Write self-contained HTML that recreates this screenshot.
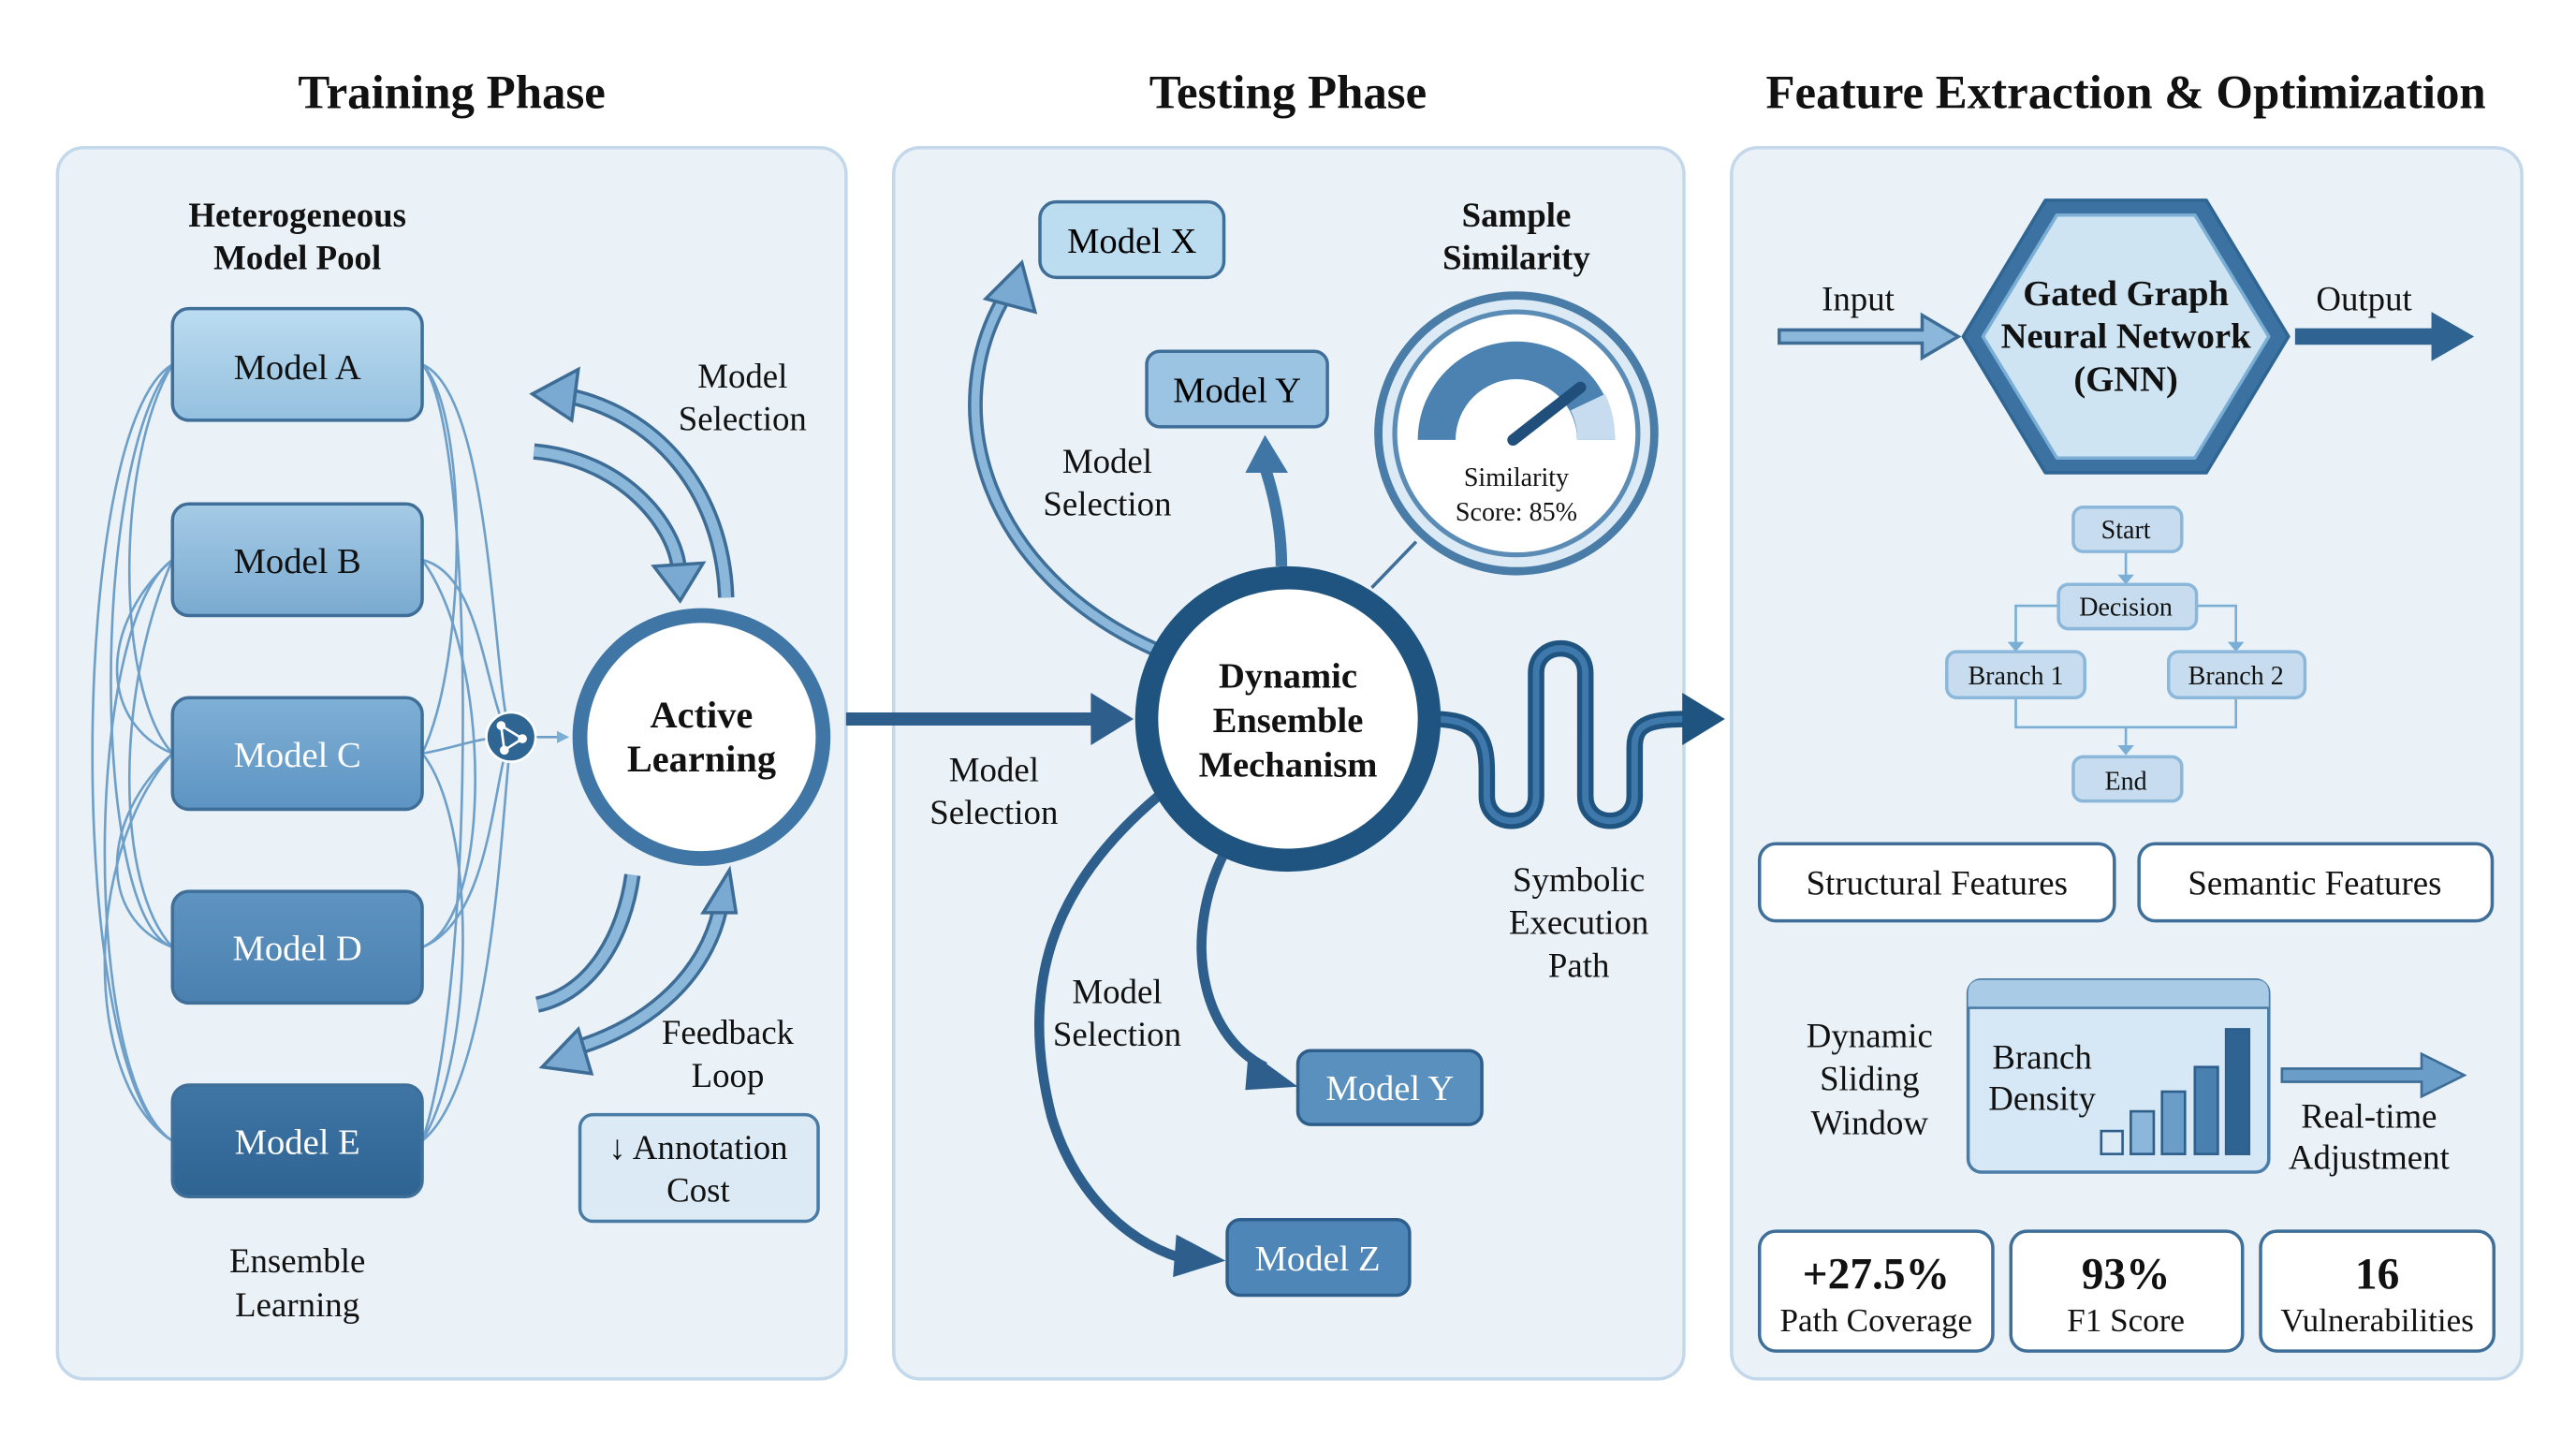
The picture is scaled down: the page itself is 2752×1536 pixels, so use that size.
<!DOCTYPE html>
<html><head><meta charset="utf-8"><style>html,body{margin:0;padding:0;background:#fff}svg{display:block}</style></head><body>
<svg width="2752" height="1536" viewBox="0 0 1568 876" preserveAspectRatio="none" xmlns="http://www.w3.org/2000/svg" font-family="'Liberation Serif', serif">
<defs>
<linearGradient id="gA" x1="0" y1="0" x2="0" y2="1"><stop offset="0" stop-color="#bcdcf0"/><stop offset="1" stop-color="#94c0df"/></linearGradient>
<linearGradient id="gB" x1="0" y1="0" x2="0" y2="1"><stop offset="0" stop-color="#a5cbe6"/><stop offset="1" stop-color="#7aaad0"/></linearGradient>
<linearGradient id="gC" x1="0" y1="0" x2="0" y2="1"><stop offset="0" stop-color="#7fb0d6"/><stop offset="1" stop-color="#5d94c2"/></linearGradient>
<linearGradient id="gD" x1="0" y1="0" x2="0" y2="1"><stop offset="0" stop-color="#5f94c1"/><stop offset="1" stop-color="#4a80b0"/></linearGradient>
<linearGradient id="gE" x1="0" y1="0" x2="0" y2="1"><stop offset="0" stop-color="#3f76a6"/><stop offset="1" stop-color="#2e6392"/></linearGradient>
<marker id="ms" viewBox="0 0 10 10" refX="8" refY="5" markerWidth="5" markerHeight="5" orient="auto"><path d="M0,0L10,5L0,10z" fill="#7aaed4"/></marker>
</defs>
<rect width="1568" height="876" fill="#fff"/>
<g font-weight="bold" font-size="29" text-anchor="middle" fill="#111">
<text x="275" y="66">Training Phase</text><text x="784" y="66">Testing Phase</text><text x="1294" y="66">Feature Extraction &amp; Optimization</text></g>
<g fill="#eaf2f8" stroke="#c3d8ea" stroke-width="2">
<rect x="35" y="90" width="480" height="750" rx="16"/><rect x="544" y="90" width="481" height="750" rx="16"/><rect x="1054" y="90" width="481" height="750" rx="16"/></g>

<!-- LEFT -->
<g font-weight="bold" font-size="21" text-anchor="middle" fill="#111"><text x="181" y="138">Heterogeneous</text><text x="181" y="164">Model Pool</text></g>
<g fill="none" stroke="#6e9fc8" stroke-width="1.5">
<path d="M105,222 C40,260 40,660 105,695"/><path d="M105,222 C55,280 55,560 105,577"/><path d="M105,341 C50,380 50,660 105,695"/><path d="M105,341 C60,380 60,440 105,459"/><path d="M105,459 C60,500 60,560 105,577"/><path d="M105,222 C70,280 70,420 105,459"/><path d="M105,459 C50,520 50,660 105,695"/><path d="M105,341 C70,420 70,540 105,577"/>
<path d="M257,222 C300,240 300,420 311,449"/><path d="M257,222 C290,260 290,600 257,695"/><path d="M257,341 C295,350 295,430 311,449"/><path d="M257,341 C300,400 300,560 257,577"/><path d="M257,459 C280,455 290,449 311,449"/><path d="M257,577 C300,560 300,470 311,449"/><path d="M257,695 C300,660 305,500 311,449"/><path d="M257,459 C290,500 290,640 257,695"/><path d="M257,222 C285,250 285,400 257,459"/>
<path d="M326,449 L345,449" marker-end="url(#ms)"/></g>
<g stroke="#3f6f98" stroke-width="2">
<rect x="105" y="188" width="152" height="68" rx="10" fill="url(#gA)"/><rect x="105" y="307" width="152" height="68" rx="10" fill="url(#gB)"/><rect x="105" y="425" width="152" height="68" rx="10" fill="url(#gC)"/><rect x="105" y="543" width="152" height="68" rx="10" fill="url(#gD)"/><rect x="105" y="661" width="152" height="68" rx="10" fill="url(#gE)"/></g>
<g font-size="22" text-anchor="middle"><text x="181" y="231" fill="#111">Model A</text><text x="181" y="349" fill="#111">Model B</text><text x="181" y="467" fill="#fff">Model C</text><text x="181" y="585" fill="#fff">Model D</text><text x="181" y="703" fill="#fff">Model E</text></g>
<circle cx="311" cy="449" r="15" fill="#2f6592" stroke="#fff" stroke-width="1.5"/>
<g stroke="#fff" stroke-width="1.5" fill="#fff"><path d="M305,442 L318,450 L307,457 Z" fill="none"/><circle cx="305" cy="442" r="2"/><circle cx="318" cy="450" r="2"/><circle cx="307" cy="457" r="2"/></g>
<circle cx="427" cy="449" r="74" fill="#fff" stroke="#3f76a5" stroke-width="9"/>
<g font-weight="bold" font-size="23" text-anchor="middle" fill="#111"><text x="427" y="443">Active</text><text x="427" y="470">Learning</text></g>
<g fill="none" stroke="#3d6d96" stroke-width="10">
<path d="M442,364 C440,300 400,250 340,240"/><path d="M325,275 C380,280 410,320 413,345"/>
<path d="M385,533 C380,570 360,605 327,612"/><path d="M345,640 C400,625 430,590 438,555"/></g>
<g fill="none" stroke="#8ab7da" stroke-width="6">
<path d="M442,364 C440,300 400,250 340,240"/><path d="M325,275 C380,280 410,320 413,345"/>
<path d="M385,533 C380,570 360,605 327,612"/><path d="M345,640 C400,625 430,590 438,555"/></g>
<g fill="#7aaad2" stroke="#3d6d96" stroke-width="2">
<path d="M324,240 L352,225 L348,256 Z"/><path d="M398,345 L428,343 L414,366 Z"/><path d="M428,556 L448,556 L444,530 Z"/><path d="M330,650 L352,627 L360,654 Z"/></g>
<g font-size="21" text-anchor="middle" fill="#111"><text x="452" y="236">Model</text><text x="452" y="262">Selection</text><text x="443" y="636">Feedback</text><text x="443" y="662">Loop</text><text x="181" y="775">Ensemble</text><text x="181" y="802">Learning</text></g>
<rect x="353" y="679" width="145" height="65" rx="8" fill="#dbeaf5" stroke="#4a7ba5" stroke-width="2"/>
<g font-size="21" text-anchor="middle" fill="#111"><text x="425" y="706">↓ Annotation</text><text x="425" y="732">Cost</text></g>

<!-- MIDDLE -->
<path d="M515,438 L668,438" stroke="#2e5f8c" stroke-width="8"/><path d="M664,422 L690,438 L664,454 Z" fill="#2e5f8c"/>
<g font-size="21" text-anchor="middle" fill="#111"><text x="605" y="476">Model</text><text x="605" y="502">Selection</text></g>
<path d="M704,396 C600,350 570,250 612,180" fill="none" stroke="#3f6f98" stroke-width="9"/><path d="M704,396 C600,350 570,250 612,180" fill="none" stroke="#8ab7da" stroke-width="5"/>
<path d="M600,182 L622,160 L630,190 Z" fill="#7aaad2" stroke="#3d6d96" stroke-width="2"/>
<path d="M780,345 C780,320 775,300 770,285" fill="none" stroke="#3f76a5" stroke-width="7"/><path d="M758,288 L770,265 L784,288 Z" fill="#3f76a5"/>
<rect x="633" y="123" width="112" height="46" rx="10" fill="#bcdcf0" stroke="#3f6f98" stroke-width="2"/><text x="689" y="154" font-size="22" text-anchor="middle">Model X</text>
<rect x="698" y="214" width="110" height="46" rx="8" fill="#9bc4e2" stroke="#3f6f98" stroke-width="2"/><text x="753" y="245" font-size="22" text-anchor="middle">Model Y</text>
<g font-size="21" text-anchor="middle" fill="#111"><text x="674" y="288">Model</text><text x="674" y="314">Selection</text></g>
<line x1="835" y1="358" x2="862" y2="330" stroke="#3f6f98" stroke-width="2"/>
<circle cx="923" cy="264" r="84" fill="#dbeaf5" stroke="#4a7ca8" stroke-width="5"/><circle cx="923" cy="264" r="74" fill="#fff" stroke="#5b8cb6" stroke-width="3"/>
<path d="M863,268 A60,60 0 0 1 983,268 L960,268 A37,37 0 0 0 886,268 Z" fill="#4b82b2"/>
<path d="M960,268 A37,37 0 0 0 956,250 L977,240 A60,60 0 0 1 983,268 Z" fill="#c7ddef"/>
<line x1="921" y1="268" x2="962" y2="236" stroke="#1f4f7a" stroke-width="7" stroke-linecap="round"/>
<g font-size="16" text-anchor="middle" fill="#111"><text x="923" y="296">Similarity</text><text x="923" y="317">Score: 85%</text></g>
<g font-weight="bold" font-size="21" text-anchor="middle" fill="#111"><text x="923" y="138">Sample</text><text x="923" y="164">Similarity</text></g>
<path d="M705,485 C640,540 620,600 640,680 C655,730 690,760 725,768" fill="none" stroke="#2e5f8c" stroke-width="6"/><path d="M716,752 L746,768 L714,778 Z" fill="#2e5f8c"/>
<path d="M745,520 C720,570 730,630 770,650" fill="none" stroke="#2e5f8c" stroke-width="6"/><path d="M760,640 L790,662 L758,664 Z" fill="#2e5f8c"/>
<g font-size="21" text-anchor="middle" fill="#111"><text x="680" y="611">Model</text><text x="680" y="637">Selection</text></g>
<rect x="790" y="640" width="112" height="45" rx="8" fill="#5a90be" stroke="#2e5f8c" stroke-width="2"/><text x="846" y="670" font-size="22" fill="#fff" text-anchor="middle">Model Y</text>
<rect x="747" y="743" width="111" height="46" rx="8" fill="#4d86b7" stroke="#2e5f8c" stroke-width="2"/><text x="802" y="774" font-size="22" fill="#fff" text-anchor="middle">Model Z</text>
<path d="M872,438 C900,438 905,450 905,470 L905,485 C905,505 935,505 935,485 L935,410 C935,390 965,390 965,410 L965,485 C965,505 995,505 995,485 L995,455 C995,440 1005,438 1030,438" fill="none" stroke="#1f5480" stroke-width="10"/>
<path d="M872,438 C900,438 905,450 905,470 L905,485 C905,505 935,505 935,485 L935,410 C935,390 965,390 965,410 L965,485 C965,505 995,505 995,485 L995,455 C995,440 1005,438 1030,438" fill="none" stroke="#3f78aa" stroke-width="4"/>
<path d="M1024,422 L1050,438 L1024,454 Z" fill="#1f5480"/>
<circle cx="784" cy="438" r="86" fill="#fff" stroke="#1f5480" stroke-width="14"/>
<g font-weight="bold" font-size="22" text-anchor="middle" fill="#111"><text x="784" y="419">Dynamic</text><text x="784" y="446">Ensemble</text><text x="784" y="473">Mechanism</text></g>
<g font-size="21" text-anchor="middle" fill="#111"><text x="961" y="543">Symbolic</text><text x="961" y="569">Execution</text><text x="961" y="595">Path</text></g>

<!-- RIGHT -->
<path d="M1083,201 L1170,201 L1170,192 L1192,205 L1170,218 L1170,209 L1083,209 Z" fill="#8ab7da" stroke="#3d6d96" stroke-width="2"/>
<path d="M1397,200 L1480,200 L1480,190 L1506,205 L1480,220 L1480,210 L1397,210 Z" fill="#2e6392"/>
<g font-size="21" text-anchor="middle" fill="#111"><text x="1131" y="189">Input</text><text x="1439" y="189">Output</text></g>
<polygon points="1245,122 1343,122 1393,205 1343,288 1245,288 1195,205" fill="#3b72a2" stroke="#2f6592" stroke-width="2" stroke-linejoin="round"/>
<polygon points="1252,131 1336,131 1381,205 1336,279 1252,279 1207,205" fill="#cfe4f3" stroke="#7aaed4" stroke-width="2" stroke-linejoin="round"/>
<g font-weight="bold" font-size="22" text-anchor="middle" fill="#111"><text x="1294" y="186">Gated Graph</text><text x="1294" y="212">Neural Network</text><text x="1294" y="238">(GNN)</text></g>
<g fill="none" stroke="#7aaed4" stroke-width="1.5">
<path d="M1294,336 L1294,354"/><path d="M1253,369 L1227,369 L1227,396"/><path d="M1336,369 L1361,369 L1361,396"/><path d="M1227,425 L1227,443 L1361,443 L1361,425"/><path d="M1294,443 L1294,458"/></g>
<g fill="#7aaed4"><path d="M1289,350 L1294,356 L1299,350Z"/><path d="M1222,391 L1227,397 L1232,391Z"/><path d="M1356,391 L1361,397 L1366,391Z"/><path d="M1289,454 L1294,460 L1299,454Z"/></g>
<g fill="#c7ddef" stroke="#8ab7da" stroke-width="2">
<rect x="1262" y="309" width="66" height="27" rx="6"/><rect x="1253" y="356" width="84" height="27" rx="6"/><rect x="1185" y="397" width="84" height="28" rx="6"/><rect x="1320" y="397" width="83" height="28" rx="6"/><rect x="1262" y="461" width="66" height="27" rx="6"/></g>
<g font-size="16" text-anchor="middle" fill="#111"><text x="1294" y="328">Start</text><text x="1294" y="375">Decision</text><text x="1227" y="417">Branch 1</text><text x="1361" y="417">Branch 2</text><text x="1294" y="481">End</text></g>
<g fill="#fff" stroke="#3f6f98" stroke-width="2"><rect x="1071" y="514" width="216" height="47" rx="10"/><rect x="1302" y="514" width="215" height="47" rx="10"/></g>
<g font-size="21" text-anchor="middle" fill="#111"><text x="1179" y="545">Structural Features</text><text x="1409" y="545">Semantic Features</text>
<text x="1138" y="638">Dynamic</text><text x="1138" y="664">Sliding</text><text x="1138" y="691">Window</text>
<text x="1442" y="687">Real-time</text><text x="1442" y="712">Adjustment</text></g>
<rect x="1198" y="597" width="183" height="117" rx="8" fill="#d6e8f5" stroke="#4a7ca8" stroke-width="2"/>
<path d="M1198,605 Q1198,597 1206,597 L1373,597 Q1381,597 1381,605 L1381,614 L1198,614 Z" fill="#a9cbe6"/><line x1="1198" y1="614" x2="1381" y2="614" stroke="#4a7ca8" stroke-width="1.5"/>
<g font-size="21" text-anchor="middle" fill="#111"><text x="1243" y="651">Branch</text><text x="1243" y="676">Density</text></g>
<g stroke="#2e5f8c" stroke-width="1.5"><rect x="1279" y="689" width="13" height="14" fill="#dbeaf5"/><rect x="1297" y="677" width="14" height="26" fill="#8ab7da"/><rect x="1316" y="665" width="14" height="38" fill="#6a9dc8"/><rect x="1336" y="650" width="14" height="53" fill="#4a80b0"/><rect x="1355" y="627" width="14" height="76" fill="#2e6392"/></g>
<path d="M1389,651 L1474,651 L1474,642 L1500,655 L1474,668 L1474,659 L1389,659 Z" fill="#6a9dc8" stroke="#3d6d96" stroke-width="1.5"/>
<g fill="#fff" stroke="#3f6f98" stroke-width="2"><rect x="1071" y="750" width="142" height="73" rx="10"/><rect x="1224" y="750" width="141" height="73" rx="10"/><rect x="1376" y="750" width="142" height="73" rx="10"/></g>
<g font-weight="bold" font-size="27" text-anchor="middle" fill="#111"><text x="1142" y="785">+27.5%</text><text x="1294" y="785">93%</text><text x="1447" y="785">16</text></g>
<g font-size="20" text-anchor="middle" fill="#111"><text x="1142" y="811">Path Coverage</text><text x="1294" y="811">F1 Score</text><text x="1447" y="811">Vulnerabilities</text></g>
</svg>
</body></html>
